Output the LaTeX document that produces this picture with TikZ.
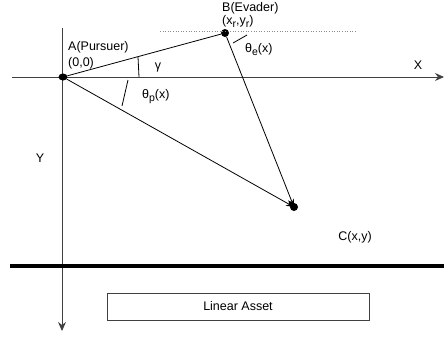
\documentclass[tikz,border=0pt]{standalone}
\usepackage{fontspec}
\setmainfont{Liberation Sans}
\usetikzlibrary{arrows.meta,shapes.geometric}
% lowered index in running text
\newcommand{\lowidx}[1]{\raisebox{-0.45ex}{\fontsize{10.5}{11}\selectfont #1}}
\begin{document}
\begin{tikzpicture}[x=1pt,y=-1pt,
  lbl/.style={inner sep=0pt,font=\fontsize{12.5}{13.5}\selectfont},
  axis/.style={draw=black!75,line width=0.9pt,-{Stealth[length=9pt,width=8pt,inset=3pt]}},
  dot/.style={circle,fill=black,inner sep=0pt,minimum size=8pt},
  ray/.style={draw=black,line width=0.8pt},
  pathto/.style={ray,-{Stealth[length=8pt,width=6pt]}},
  anglemark/.style={draw=black,line width=0.8pt}]
  \useasboundingbox (0,0) rectangle (444,341);
  % axes
  \coordinate (xl) at (12,77);
  \coordinate (xr) at (444,77);
  \coordinate (yt) at (62,28);
  \coordinate (yb) at (62,331);
  \draw[axis] (xl) -- (xr);
  \draw[axis] (yt) -- (yb);
  % points
  \node[ellipse,fill=black,inner sep=0pt,minimum width=9pt,minimum height=7pt] (A) at (63,77) {};
  \node[dot] (B) at (225,33) {};
  \node[dot] (C) at (294,207) {};
  % dotted horizontal through B
  \coordinate (dl) at (160,31);
  \coordinate (dr) at (357,31);
  \draw[black!45,line width=0.6pt,dotted] (dl) -- (dr);
  % sight lines and paths
  \draw[ray] (A) -- (B);
  \draw[pathto] (A) -- (C.center);
  \draw[pathto] (B) -- (C.center);
  % angle marks
  \coordinate (g1) at (138,57);
  \coordinate (g2) at (139,77);
  \draw[anglemark] (g1) -- (g2);
  \coordinate (p1) at (128,80);
  \coordinate (p2) at (122,106);
  \draw[anglemark] (p1) -- (p2);
  \coordinate (e1) at (233,43);
  \coordinate (e2) at (247,35);
  \draw[anglemark] (e1) -- (e2);
  % asset boundary
  \coordinate (al) at (10,266);
  \coordinate (ar) at (444,266);
  \draw[black,line width=4pt] (al) -- (ar);
  \node[draw=black!75,line width=0.8pt,minimum width=262pt,minimum height=27pt,inner sep=0pt,font=\fontsize{12.5}{13.5}\selectfont] (asset) at (238,306.5) {Linear Asset};
  % labels
  \node[lbl,anchor=base west] (Bn) at (222,11) {B(Evader)};
  \node[lbl,anchor=base west] (Bc) at (222,24.5) {(x\lowidx{r},y\lowidx{r})};
  \node[lbl,anchor=west] (An) at (68,47) {A(Pursuer)};
  \node[lbl,anchor=west] (Ac) at (68,63) {(0,0)};
  \node[lbl] (gam) at (158,67) {γ};
  \node[lbl,anchor=west] (thp) at (142,97) {θ\lowidx{p}(x)};
  \node[lbl,anchor=west] (the) at (245,50) {θ\lowidx{e}(x)};
  \node[lbl] (X) at (418,65) {X};
  \node[lbl] (Y) at (40,158) {Y};
  \node[lbl] (Cn) at (355,237) {C(x,y)};
\end{tikzpicture}
\end{document}
